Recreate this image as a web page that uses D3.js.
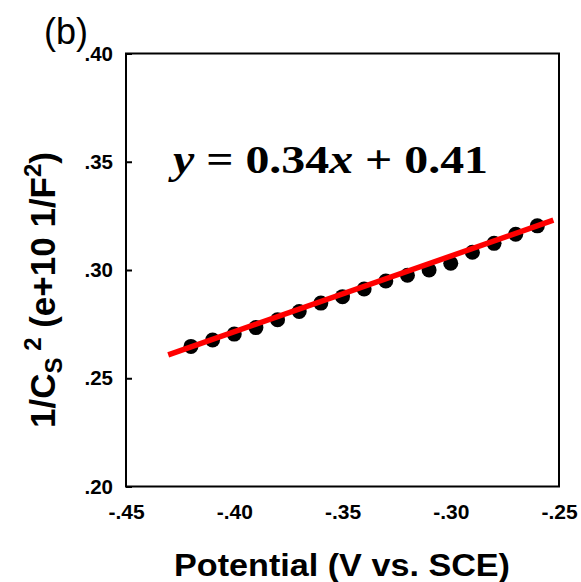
<!DOCTYPE html>
<html><head><meta charset="utf-8">
<script src="https://cdn.jsdelivr.net/npm/d3@7"></script>
<style>body{margin:0;background:#fff}svg{display:block}</style>
</head><body>
<script>
const potential = [-0.42,-0.41,-0.40,-0.39,-0.38,-0.37,-0.36,-0.35,-0.34,-0.33,-0.32,-0.31,-0.30,-0.29,-0.28,-0.27,-0.26];
const invCs2 = [0.2647,0.2677,0.2704,0.2734,0.2770,0.2808,0.2847,0.2877,0.2912,0.2949,0.2976,0.3000,0.3031,0.3082,0.3123,0.3165,0.3204];
const fitX = [-0.4305,-0.2526];
const fitY = [0.2608,0.3230];
const xTicks = [-0.45,-0.40,-0.35,-0.30,-0.25];
const yTicks = [0.20,0.25,0.30,0.35,0.40];
const xTickLabels = ["-.45","-.40","-.35","-.30","-.25"];
const yTickLabels = [".20",".25",".30",".35",".40"];

const W=581,H=582;
const L=126,R=559,T=53.5,B=486.5;
const SANS="Liberation Sans, Arial, Helvetica, sans-serif";
const svg=d3.select("body").append("svg").attr("width",W).attr("height",H);
const x=d3.scaleLinear().domain([-0.45,-0.25]).range([L,R]);
const y=d3.scaleLinear().domain([0.20,0.40]).range([B,T]);

svg.append("rect").attr("x",L).attr("y",T).attr("width",R-L).attr("height",B-T)
  .attr("fill","none").attr("stroke","#000").attr("stroke-width",2);

const yAxis=d3.axisLeft(y).tickValues(yTicks).tickSize(-6).tickPadding(13)
  .tickFormat((d,i)=>yTickLabels[i]);
const ga=svg.append("g").attr("transform",`translate(${L},0)`).call(yAxis);
ga.select(".domain").remove();
ga.selectAll(".tick line").attr("stroke","#000").attr("stroke-width",2);
ga.selectAll("text").attr("font-family",SANS).attr("font-weight","bold").attr("font-size",20.5).attr("fill","#000");

const xAxis=d3.axisBottom(x).tickValues(xTicks).tickSize(0).tickPadding(18)
  .tickFormat((d,i)=>xTickLabels[i]);
const gx=svg.append("g").attr("transform",`translate(0,${B})`).call(xAxis);
gx.select(".domain").remove();
gx.selectAll("text").attr("font-family",SANS).attr("font-weight","bold").attr("font-size",21).attr("fill","#000");

svg.append("g").selectAll("circle").data(potential).join("circle")
  .attr("cx",d=>x(d)).attr("cy",(d,i)=>y(invCs2[i])).attr("r",7.5).attr("fill","#000");

svg.append("line").attr("x1",x(fitX[0])).attr("y1",y(fitY[0])).attr("x2",x(fitX[1])).attr("y2",y(fitY[1]))
  .attr("stroke","#ff0000").attr("stroke-width",5.5);

const eq=svg.append("text").attr("x",173).attr("y",173)
  .attr("font-family","Liberation Serif, Times New Roman, serif").attr("font-weight","bold").attr("font-size",41).attr("fill","#000")
  .attr("textLength",315).attr("lengthAdjust","spacingAndGlyphs");
eq.append("tspan").attr("font-style","italic").text("y");
eq.append("tspan").text(" = 0.34");
eq.append("tspan").attr("font-style","italic").text("x");
eq.append("tspan").text(" + 0.41");

svg.append("text").attr("x",44).attr("y",44).attr("font-family",SANS)
  .attr("font-size",36).attr("fill","#000").text("(b)");

svg.append("text").attr("x",174).attr("y",576)
  .attr("font-family",SANS).attr("font-weight","bold").attr("font-size",31).attr("fill","#000")
  .attr("textLength",336).attr("lengthAdjust","spacingAndGlyphs")
  .text("Potential (V vs. SCE)");

const yl=svg.append("text").attr("transform","translate(55,290) rotate(-90)").attr("text-anchor","middle")
  .attr("font-family",SANS).attr("font-weight","bold").attr("font-size",35).attr("fill","#000");
yl.append("tspan").text("1/C");
yl.append("tspan").attr("font-size",24).attr("dy",7).text("S");
yl.append("tspan").attr("font-size",24).attr("dy",-21).text(" 2");
yl.append("tspan").attr("dy",14).text(" (e+10 1/F");
yl.append("tspan").attr("font-size",24).attr("dy",-14).text("2");
yl.append("tspan").attr("dy",14).text(")");
</script>
</body></html>
